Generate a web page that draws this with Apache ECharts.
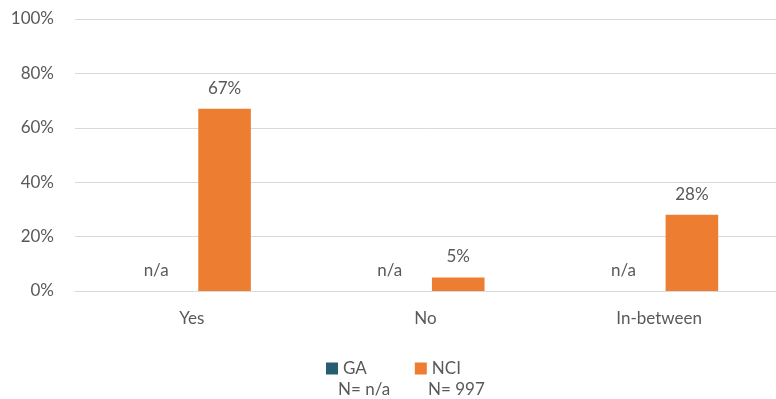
<!DOCTYPE html>
<html><head><meta charset="utf-8">
<script src="https://cdn.jsdelivr.net/npm/echarts@6/dist/echarts.min.js"></script>
<style>html,body{margin:0;padding:0;background:#fff}#c{width:776px;height:399px}</style>
</head><body><div id="c"></div>
<script>
const categories = ['Yes', 'No', 'In-between'];
const gaValues = [0, 0, 0];
const gaLabels = ['n/a', 'n/a', 'n/a'];
const nciValues = [67, 5, 28];
const seriesNames = ['GA', 'NCI'];
const nLabels = ['N= n/a', 'N= 997'];
const yTicks = [0, 20, 40, 60, 80, 100];

const font = 'Lato, "Open Sans", sans-serif';
const txt = '#595959';
const fs = 17;
const chart = echarts.init(document.getElementById('c'));
chart.setOption({
  animation: false,
  textStyle: { fontFamily: font },
  grid: { left: 75, width: 709, top: 19, bottom: 108, containLabel: false },
  xAxis: {
    type: 'category', data: categories,
    axisLine: { lineStyle: { color: '#D9D9D9', width: 1 } },
    axisTick: { show: false },
    axisLabel: { color: txt, fontSize: fs, fontFamily: font, margin: 19 }
  },
  yAxis: {
    type: 'value', min: yTicks[0], max: yTicks[yTicks.length - 1], interval: 20,
    axisLine: { show: false }, axisTick: { show: false },
    splitLine: { lineStyle: { color: '#D9D9D9', width: 1 } },
    axisLabel: { color: txt, fontSize: fs, fontFamily: font, margin: 21, formatter: v => v + '%' }
  },
  legend: {
    data: seriesNames, left: 321, top: 355, itemWidth: 12, itemHeight: 12, itemGap: 48,
    icon: 'rect', textStyle: { color: txt, fontSize: fs, fontFamily: font }
  },
  graphic: [
    { type: 'text', left: 338, top: 381, style: { text: nLabels[0], fill: txt, font: fs + 'px ' + font } },
    { type: 'text', left: 428, top: 381, style: { text: nLabels[1], fill: txt, font: fs + 'px ' + font } }
  ],
  series: [
    {
      name: seriesNames[0], type: 'bar', data: gaValues, barWidth: '22.5%', barGap: '24.5%',
      itemStyle: { color: '#255E70' },
      label: { show: true, position: 'top', distance: 12, offset: [-3, 0], color: txt, fontSize: fs, fontFamily: font,
        formatter: p => gaLabels[p.dataIndex] }
    },
    {
      name: seriesNames[1], type: 'bar', data: nciValues, barWidth: '22.5%', barGap: '24.5%',
      itemStyle: { color: '#ED7D31' },
      label: { show: true, position: 'top', distance: 12, color: txt, fontSize: fs, fontFamily: font,
        formatter: p => p.value + '%' }
    }
  ]
});
</script></body></html>
